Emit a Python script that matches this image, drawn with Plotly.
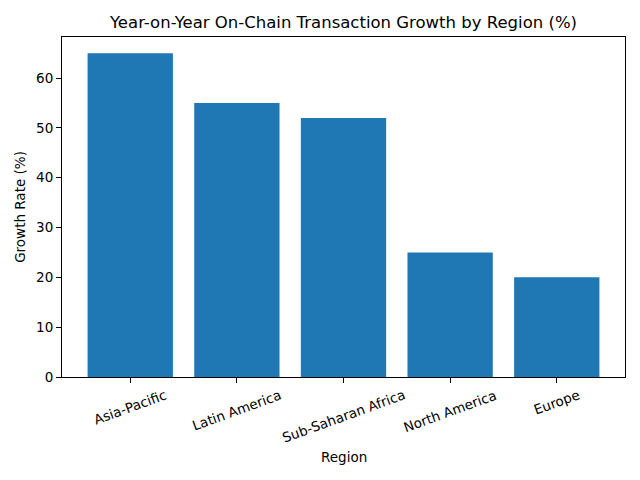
import plotly.graph_objects as go

regions = ["Asia-Pacific", "Latin America", "Sub-Saharan Africa", "North America", "Europe"]
growth_rates = [65, 55, 52, 25, 20]

fig = go.Figure(go.Bar(
    x=list(range(len(regions))),
    y=growth_rates,
    marker=dict(color="#1f77b4", line=dict(width=0)),
    width=0.8,
))

axis_style = dict(
    showline=True, linecolor="black", linewidth=1, mirror=True,
    ticks="outside", ticklen=5, tickcolor="black", tickwidth=1,
    showgrid=False, zeroline=False,
    tickfont=dict(size=13.5, color="black"),
)

# rotated tick labels centred on their ticks, like the original
for i, name in enumerate(regions):
    fig.add_annotation(x=i, xref="x", y=0, yref="paper", text=name,
                       textangle=-20, showarrow=False, yanchor="top",
                       yshift=-7, font=dict(size=13.5, color="black"))
fig.add_annotation(x=0.5, xref="paper", y=0, yref="paper", text="Region",
                   showarrow=False, yanchor="middle", yshift=-80,
                   font=dict(size=13.5, color="black"))

fig.update_layout(
    width=640, height=480,
    margin=dict(l=54, r=23, t=29, b=111),
    paper_bgcolor="white", plot_bgcolor="white",
    font=dict(family="DejaVu Sans", color="black"),
    title=dict(text="Year-on-Year On-Chain Transaction Growth by Region (%)",
               x=0.5, xref="paper", xanchor="center", y=0.971, yanchor="middle",
               font=dict(size=16.5)),
    showlegend=False,
)
fig.update_xaxes(
    **axis_style,
    range=[-0.64, 4.64],
    tickmode="array", tickvals=list(range(len(regions))), ticktext=[""] * len(regions),
)
fig.update_yaxes(
    **axis_style,
    range=[0, 68.25],
    tickvals=[0, 10, 20, 30, 40, 50, 60],
    title=dict(text="Growth Rate (%)", font=dict(size=13.5), standoff=7),
)

fig.write_html("out.html")
